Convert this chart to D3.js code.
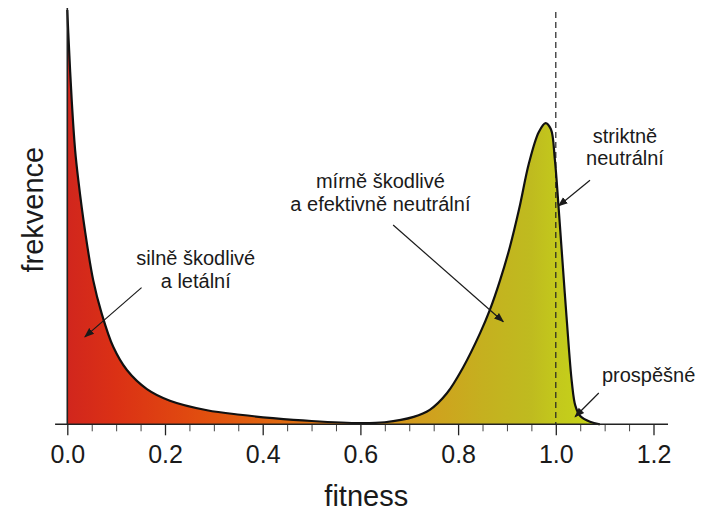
<!DOCTYPE html>
<html>
<head>
<meta charset="utf-8">
<script src="https://cdn.jsdelivr.net/npm/d3@7"></script>
<style>
  html, body { margin: 0; padding: 0; background: #ffffff; }
  svg { display: block; }
  text { font-family: "Liberation Sans", Arial, Helvetica, sans-serif; fill: #1a1a1a; }
</style>
</head>
<body>
<svg id="chart" width="714" height="516"></svg>
<script>
// ---- data (fitness, relative frequency) ----
const fitness = [0.000, 0.002, 0.009, 0.016, 0.0225, 0.036, 0.053, 0.070, 0.094, 0.122, 0.163, 0.210,
  0.286, 0.354, 0.421, 0.500, 0.600, 0.650, 0.709, 0.742, 0.777, 0.811, 0.845, 0.865, 0.886, 0.906,
  0.925, 0.945, 0.965, 0.979, 0.990, 0.998, 1.0055, 1.012, 1.022, 1.033, 1.040, 1.050, 1.070, 1.090];
const frekvence = [1.000, 0.945, 0.783, 0.662, 0.590, 0.469, 0.348, 0.269, 0.187, 0.131, 0.085, 0.057,
  0.034, 0.023, 0.015, 0.008, 0.003, 0.005, 0.018, 0.035, 0.075, 0.139, 0.220, 0.276, 0.348, 0.428,
  0.520, 0.630, 0.705, 0.727, 0.712, 0.640, 0.527, 0.421, 0.259, 0.100, 0.045, 0.020, 0.006, 0.000];

const majorTicks = [0.0, 0.2, 0.4, 0.6, 0.8, 1.0, 1.2];
const tickLabels = ["0.0", "0.2", "0.4", "0.6", "0.8", "1.0", "1.2"];
const minorTicks = d3.range(0, 25).map(i => +(i * 0.05).toFixed(2)).filter(v => !majorTicks.includes(v));
const neutralLine = [1.0];

// annotations: text lines, text anchor point and arrow in data coordinates
const annoLabels = [
  ["silně škodlivé", "a letální"],
  ["mírně škodlivé", "a efektivně neutrální"],
  ["striktně", "neutrální"],
  ["prospěšné"]
];
const annoTextPos = [[0.263, 0.3845], [0.641, 0.570], [1.1417, 0.6791], [1.190, 0.1021]];
const annoArrowFrom = [[0.152, 0.330], [0.667, 0.481], [1.070, 0.589], [1.088, 0.0756]];
const annoArrowTo = [[0.036, 0.211], [0.8925, 0.2477], [1.0055, 0.527], [1.0395, 0.0183]];

// gradient colours along fitness
const gradOffsets = [0, 0.10, 0.30, 0.50, 0.65, 0.75, 0.85, 0.95, 1.00, 1.10];
const gradColors = ["#d1261d", "#db3115", "#e2520e", "#df7412", "#d8921a", "#cfa21e", "#c5b01f", "#bfbb1f", "#c3c81c", "#c8d818"];

// ---- layout ----
const svg = d3.select("#chart");
const x = d3.scaleLinear().domain([0, 1]).range([67.3, 555.8]);
const y = d3.scaleLinear().domain([0, 1]).range([424.3, 10]);
const y0 = y(0);

const data = fitness.map((f, i) => ({ f, v: frekvence[i] }));

// gradient
const defs = svg.append("defs");
const grad = defs.append("linearGradient")
  .attr("id", "fillGrad")
  .attr("gradientUnits", "userSpaceOnUse")
  .attr("x1", x(0)).attr("x2", x(1.1))
  .attr("y1", 0).attr("y2", 0);
gradOffsets.forEach((o, i) => {
  grad.append("stop").attr("offset", o / 1.1).attr("stop-color", gradColors[i]);
});

defs.append("marker")
  .attr("id", "arrow")
  .attr("viewBox", "0 0 10 10")
  .attr("refX", 9).attr("refY", 5)
  .attr("markerWidth", 10).attr("markerHeight", 10)
  .attr("markerUnits", "userSpaceOnUse")
  .attr("orient", "auto")
  .append("path")
  .attr("d", "M0,1.2 L10,5 L0,8.8 Z")
  .attr("fill", "#1a1a1a");

// area
const curve = d3.curveCatmullRom.alpha(0.5);
const area = d3.area().x(d => x(d.f)).y0(y0).y1(d => y(d.v)).curve(curve);
const line = d3.line().x(d => x(d.f)).y(d => y(d.v)).curve(curve);

svg.append("path").datum(data).attr("d", area).attr("fill", "url(#fillGrad)");

// dashed neutral line
svg.selectAll(".neutral").data(neutralLine).enter().append("line")
  .attr("x1", d => x(d)).attr("x2", d => x(d))
  .attr("y1", y(0.995)).attr("y2", y0)
  .attr("stroke", "#222").attr("stroke-width", 1.2)
  .attr("stroke-dasharray", "6,4");

svg.append("path").datum(data).attr("d", line)
  .attr("fill", "none").attr("stroke", "#111").attr("stroke-width", 2.2)
  .attr("stroke-linejoin", "round");

// axes
const xAxis = d3.axisBottom(x).tickValues(majorTicks)
  .tickFormat((d, i) => tickLabels[i]).tickSize(11).tickPadding(10);
const gx = svg.append("g").attr("transform", `translate(0,${y0})`).call(xAxis);
gx.select(".domain").remove();
gx.selectAll(".tick line").attr("stroke", "#222").attr("stroke-width", 1.3);
gx.selectAll(".tick text").style("font-size", "25px")
  .style("font-family", "'Liberation Sans', Arial, sans-serif").attr("fill", "#1a1a1a");

const xMinor = d3.axisBottom(x).tickValues(minorTicks).tickFormat("").tickSize(7);
const gm = svg.append("g").attr("transform", `translate(0,${y0})`).call(xMinor);
gm.select(".domain").remove();
gm.selectAll(".tick line").attr("stroke", "#444").attr("stroke-width", 1);

// axis lines
svg.append("line")
  .attr("x1", x(-0.025)).attr("x2", x(1.2297))
  .attr("y1", y0).attr("y2", y0)
  .attr("stroke", "#222").attr("stroke-width", 1.6);
svg.append("line")
  .attr("x1", x(0)).attr("x2", x(0))
  .attr("y1", y(1.005)).attr("y2", y0)
  .attr("stroke", "#222").attr("stroke-width", 1.6);

// axis titles
svg.append("text")
  .attr("x", x(0.612)).attr("y", 506)
  .attr("text-anchor", "middle")
  .style("font-size", "29px")
  .text("fitness");
svg.append("text")
  .attr("transform", `translate(43,${y(0.518)}) rotate(-90)`)
  .attr("text-anchor", "middle")
  .style("font-size", "29px")
  .text("frekvence");

// annotations
annoLabels.forEach((lines, i) => {
  const t = svg.append("text")
    .attr("x", x(annoTextPos[i][0])).attr("y", y(annoTextPos[i][1]))
    .attr("text-anchor", "middle")
    .style("font-size", "20px");
  lines.forEach((s, j) => {
    t.append("tspan").attr("x", x(annoTextPos[i][0])).attr("dy", j === 0 ? 0 : 22.5).text(s);
  });
  svg.append("line")
    .attr("x1", x(annoArrowFrom[i][0])).attr("y1", y(annoArrowFrom[i][1]))
    .attr("x2", x(annoArrowTo[i][0])).attr("y2", y(annoArrowTo[i][1]))
    .attr("stroke", "#1a1a1a").attr("stroke-width", 1.2)
    .attr("marker-end", "url(#arrow)");
});
</script>
</body>
</html>
